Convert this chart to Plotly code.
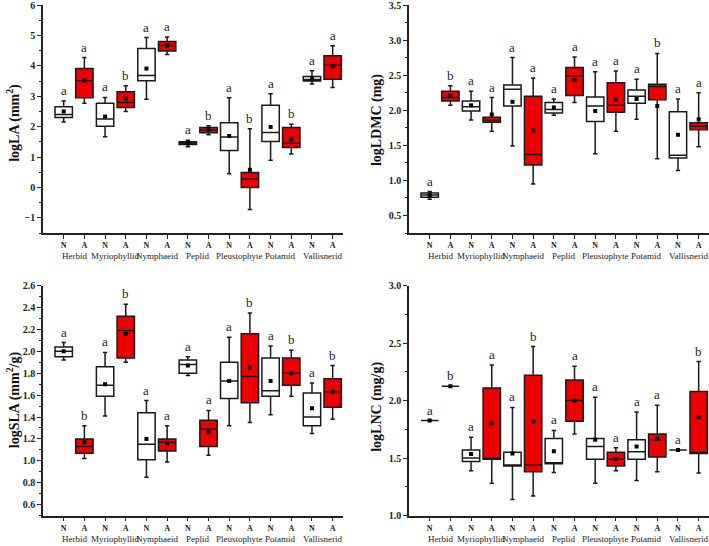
import plotly.graph_objects as go

groups = ["Herbid", "Myriophyllid", "Nymphaeid", "Peplid", "Pleustophyte", "Potamid", "Vallisnerid"]
origins = ["N", "A"]

# ---- Panel 1: logLA (mm2) ----
la_N_low = [2.15, 1.67, 2.90, 1.34, 0.45, 0.89, 3.40]
la_N_q1 = [2.30, 2.01, 3.51, 1.41, 1.21, 1.51, 3.50]
la_N_med = [2.40, 2.25, 3.68, 1.45, 1.66, 1.81, 3.55]
la_N_q3 = [2.65, 2.77, 4.57, 1.50, 2.13, 2.70, 3.65]
la_N_high = [2.84, 2.96, 4.93, 1.55, 2.95, 3.08, 3.84]
la_N_mean = [2.50, 2.33, 3.91, 1.45, 1.69, 1.99, 3.58]
la_A_low = [2.77, 2.50, 4.37, 1.73, -0.73, 1.10, 3.29]
la_A_q1 = [2.95, 2.63, 4.49, 1.80, 0.00, 1.31, 3.56]
la_A_med = [3.51, 2.79, 4.67, 1.89, 0.28, 1.45, 4.02]
la_A_q3 = [3.91, 3.15, 4.80, 1.97, 0.49, 1.97, 4.33]
la_A_high = [4.27, 3.34, 4.95, 2.03, 1.93, 2.08, 4.66]
la_A_mean = [3.52, 2.92, 4.67, 1.91, 0.58, 1.58, 3.98]
la_N_letters = ["a", "a", "a", "a", "a", "a", "a"]
la_A_letters = ["a", "b", "a", "b", "b", "b", "a"]

# ---- Panel 2: logLDMC (mg) ----
ld_N_low = [0.73, 1.86, 1.49, 1.93, 1.38, 1.87, 1.14]
ld_N_q1 = [0.76, 1.99, 2.06, 1.96, 1.84, 2.10, 1.32]
ld_N_med = [0.79, 2.05, 2.30, 2.01, 2.06, 2.20, 1.36]
ld_N_q3 = [0.82, 2.13, 2.36, 2.11, 2.19, 2.29, 1.98]
ld_N_high = [0.84, 2.27, 2.75, 2.16, 2.55, 2.44, 2.16]
ld_N_mean = [0.79, 2.07, 2.12, 2.04, 1.99, 2.16, 1.65]
ld_A_low = [2.07, 1.70, 0.95, 2.11, 1.70, 1.31, 1.48]
ld_A_q1 = [2.13, 1.83, 1.22, 2.21, 1.97, 2.15, 1.72]
ld_A_med = [2.18, 1.86, 1.37, 2.49, 2.07, 2.34, 1.77]
ld_A_q3 = [2.27, 1.90, 2.20, 2.61, 2.39, 2.37, 1.82]
ld_A_high = [2.35, 2.18, 2.46, 2.76, 2.56, 2.81, 2.25]
ld_A_mean = [2.21, 1.94, 1.71, 2.43, 2.15, 2.06, 1.87]
ld_N_letters = ["a", "a", "a", "a", "a", "a", "a"]
ld_A_letters = ["b", "a", "a", "a", "a", "b", "a"]

# ---- Panel 3: logSLA (mm2/g) ----
sl_N_low = [1.92, 1.41, 0.85, 1.78, 1.32, 1.42, 1.25]
sl_N_q1 = [1.95, 1.59, 1.01, 1.80, 1.57, 1.59, 1.32]
sl_N_med = [2.00, 1.69, 1.15, 1.88, 1.73, 1.64, 1.40]
sl_N_q3 = [2.04, 1.86, 1.44, 1.92, 1.90, 1.94, 1.62]
sl_N_high = [2.08, 1.99, 1.55, 1.95, 2.13, 2.05, 1.71]
sl_N_mean = [2.00, 1.70, 1.20, 1.87, 1.73, 1.73, 1.48]
sl_A_low = [1.02, 1.90, 0.99, 1.05, 1.35, 1.59, 1.38]
sl_A_q1 = [1.07, 1.94, 1.09, 1.13, 1.53, 1.69, 1.49]
sl_A_med = [1.13, 2.19, 1.17, 1.29, 1.77, 1.80, 1.63]
sl_A_q3 = [1.20, 2.32, 1.20, 1.37, 2.16, 1.94, 1.75]
sl_A_high = [1.32, 2.43, 1.32, 1.46, 2.35, 2.01, 1.87]
sl_A_mean = [1.17, 2.16, 1.16, 1.26, 1.85, 1.80, 1.63]
sl_N_letters = ["a", "a", "a", "a", "a", "a", "a"]
sl_A_letters = ["b", "b", "a", "a", "b", "b", "b"]

# ---- Panel 4: logLNC (mg/g) ----
ln_N_low = [1.826, 1.39, 1.14, 1.375, 1.28, 1.305, 1.57]
ln_N_q1 = [1.826, 1.47, 1.43, 1.45, 1.49, 1.49, 1.57]
ln_N_med = [1.826, 1.50, 1.44, 1.45, 1.60, 1.555, 1.57]
ln_N_q3 = [1.826, 1.57, 1.55, 1.67, 1.67, 1.66, 1.57]
ln_N_high = [1.826, 1.68, 1.94, 1.74, 2.03, 1.90, 1.57]
ln_N_mean = [1.826, 1.535, 1.54, 1.56, 1.66, 1.60, 1.57]
ln_A_low = [2.125, 1.28, 1.17, 1.71, 1.39, 1.38, 1.37]
ln_A_q1 = [2.125, 1.49, 1.38, 1.82, 1.43, 1.51, 1.54]
ln_A_med = [2.125, 1.49, 1.44, 2.00, 1.49, 1.66, 1.54]
ln_A_q3 = [2.125, 2.11, 2.22, 2.18, 1.55, 1.71, 2.08]
ln_A_high = [2.125, 2.31, 2.47, 2.30, 1.59, 1.96, 2.34]
ln_A_mean = [2.125, 1.80, 1.82, 2.00, 1.49, 1.67, 1.855]
ln_N_letters = ["a", "a", "a", "a", "a", "a", "a"]
ln_A_letters = ["b", "a", "b", "a", "a", "a", "b"]

panels = [
    dict(title="logLA (mm<sup>2</sup>)", rng=[-1.5, 6], dtick=1, minor=0.5, fmt="d",
         N=(la_N_low, la_N_q1, la_N_med, la_N_q3, la_N_high, la_N_mean, la_N_letters),
         A=(la_A_low, la_A_q1, la_A_med, la_A_q3, la_A_high, la_A_mean, la_A_letters)),
    dict(title="logLDMC (mg)", rng=[0.25, 3.5], dtick=0.5, minor=0.25, fmt=".1f",
         N=(ld_N_low, ld_N_q1, ld_N_med, ld_N_q3, ld_N_high, ld_N_mean, ld_N_letters),
         A=(ld_A_low, ld_A_q1, ld_A_med, ld_A_q3, ld_A_high, ld_A_mean, ld_A_letters)),
    dict(title="logSLA (mm<sup>2</sup>/g)", rng=[0.5, 2.6], dtick=0.2, minor=0.1, fmt=".1f",
         N=(sl_N_low, sl_N_q1, sl_N_med, sl_N_q3, sl_N_high, sl_N_mean, sl_N_letters),
         A=(sl_A_low, sl_A_q1, sl_A_med, sl_A_q3, sl_A_high, sl_A_mean, sl_A_letters)),
    dict(title="logLNC (mg/g)", rng=[1.0, 3.0], dtick=0.5, minor=0.25, fmt=".1f",
         N=(ln_N_low, ln_N_q1, ln_N_med, ln_N_q3, ln_N_high, ln_N_mean, ln_N_letters),
         A=(ln_A_low, ln_A_q1, ln_A_med, ln_A_q3, ln_A_high, ln_A_mean, ln_A_letters)),
]

W, H = 709, 546
x_doms = [[43 / W, 343 / W], [409 / W, 1.0], [43 / W, 343 / W], [409 / W, 1.0]]
y_doms = [[1 - 233 / H, 1 - 5 / H], [1 - 233 / H, 1 - 5 / H],
          [1 - 515.5 / H, 1 - 285.7 / H], [1 - 515.5 / H, 1 - 285.7 / H]]
title_x = [14, 377, 13, 377]
title_y = [0.775, 0.78, 0.267, 0.255]

FONT = "Liberation Serif"
RED = "#EE0000"
n = len(groups)
pos_N = [2 * i + 1 for i in range(n)]
pos_A = [2 * i + 2 for i in range(n)]

fig = go.Figure()
annotations = []
for k, p in enumerate(panels):
    xa = "x" if k == 0 else f"x{k+1}"
    ya = "y" if k == 0 else f"y{k+1}"
    for org, pos, fill in (("N", pos_N, "white"), ("A", pos_A, RED)):
        low, q1, med, q3, high, mean, letters = p[org]
        fig.add_trace(go.Box(
            x=pos, q1=q1, median=med, q3=q3, lowerfence=low, upperfence=high,
            width=0.84, whiskerwidth=0.25, fillcolor=fill,
            line=dict(color="#1a1a1a", width=1.5), boxpoints=False,
            xaxis=xa, yaxis=ya, showlegend=False, hoverinfo="skip"))
        fig.add_trace(go.Scatter(
            x=pos, y=mean, mode="markers",
            marker=dict(symbol="square", size=4, color="black"),
            xaxis=xa, yaxis=ya, showlegend=False, hoverinfo="skip"))
        for xi, yi, t in zip(pos, high, letters):
            annotations.append(dict(x=xi, y=yi, xref=xa, yref=ya, text=t, showarrow=False,
                                    yanchor="bottom", yshift=1,
                                    font=dict(family=FONT, size=13, color="#222")))
    # group names
    for i, g in enumerate(groups):
        annotations.append(dict(x=2 * i + 1.5, y=0, xref=xa, yref=f"{ya} domain", text=g,
                                showarrow=False, yanchor="middle", yshift=-23,
                                font=dict(family=FONT, size=9, color="#222")))
    annotations.append(dict(x=title_x[k] / W, y=title_y[k], xref="paper", yref="paper",
                            xanchor="center", yanchor="middle",
                            text=p["title"], showarrow=False, textangle=-90,
                            font=dict(family=FONT, size=14, color="#111", weight="bold")))
    ax_common = dict(showline=True, linecolor="#222", linewidth=1.5, ticks="outside",
                     tickcolor="#222", showgrid=False, zeroline=False, automargin=False,
                     ticklabeloverflow="allow")
    fig.layout[f"xaxis{'' if k == 0 else k+1}"] = dict(
        domain=x_doms[k], anchor=ya, range=[0, 14.5],
        tickvals=pos_N + pos_A, ticktext=["N"] * n + ["A"] * n,
        ticklen=4, tickwidth=1.2,
        tickfont=dict(family=FONT, size=8, color="#222", weight="bold"), **ax_common)
    fig.layout[f"yaxis{'' if k == 0 else k+1}"] = dict(
        domain=y_doms[k], anchor=xa, range=p["rng"], dtick=p["dtick"], tick0=0,
        tickformat=p["fmt"], ticklen=4, tickwidth=1.2,
        minor=dict(dtick=p["minor"], ticklen=2, tickcolor="#222", ticks="outside", tick0=0),
        tickfont=dict(family=FONT, size=10, color="#222", weight="bold"), **ax_common)

fig.update_layout(template="none", width=W, height=H,
                  margin=dict(l=0, r=0, t=0, b=0, autoexpand=False),
                  plot_bgcolor="white", paper_bgcolor="white",
                  annotations=annotations, boxmode="overlay",
                  font=dict(family=FONT))
fig.write_html("out.html", config={"displayModeBar": False},
               post_script="document.body.style.margin='0';document.body.style.overflow='hidden';")
